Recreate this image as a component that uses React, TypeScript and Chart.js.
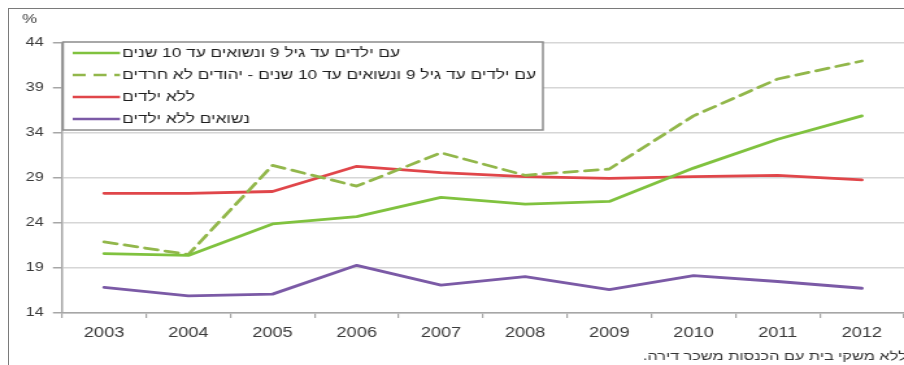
import React, { useEffect, useRef } from "react";
import { Chart, registerables } from "chart.js";

Chart.register(...registerables);

// Years on the horizontal axis
const years = ["2003", "2004", "2005", "2006", "2007", "2008", "2009", "2010", "2011", "2012"];

// Share of households (%), by household type
const withKids = [20.6, 20.4, 23.9, 24.7, 26.85, 26.1, 26.4, 30.1, 33.3, 35.9];
const withKidsNonHaredi = [21.9, 20.5, 30.4, 28.1, 31.8, 29.3, 30.0, 35.9, 40.0, 42.0];
const noKids = [27.3, 27.3, 27.5, 30.3, 29.6, 29.15, 28.95, 29.15, 29.3, 28.8];
const marriedNoKids = [16.85, 15.9, 16.1, 19.3, 17.1, 18.05, 16.6, 18.15, 17.5, 16.75];

const seriesLabels = [
  "עם ילדים עד גיל 9 ונשואים עד 10 שנים",
  "עם ילדים עד גיל 9 ונשואים עד 10 שנים - יהודים לא חרדים",
  "ללא ילדים",
  "נשואים ללא ילדים",
];

const yTicks = [14, 19, 24, 29, 34, 39, 44];
const unitLabel = "%";
const footnote = "ללא משקי בית עם הכנסות משכר דירה.";

// The drawing is laid out on a narrower canvas and widened with CSS.
const CANVAS_W = 696;
const CANVAS_H = 365;
const WIDEN = 904 / CANVAS_W;
const FONT = "'Liberation Sans', Arial, sans-serif";

const decorations = {
  id: "decorations",
  afterDatasetsDraw(chart: any) {
    const ctx = chart.ctx as CanvasRenderingContext2D;
    ctx.save();

    // unit label above the value axis
    ctx.fillStyle = "#404040";
    ctx.font = `13px ${FONT}`;
    ctx.textAlign = "center";
    ctx.textBaseline = "middle";
    ctx.fillText(unitLabel, 22.7, 19);

    // legend box
    const left = 48.5;
    const right = 418;
    const top = 42;
    const bottom = 130;
    ctx.fillStyle = "#ffffff";
    ctx.fillRect(left, top, right - left, bottom - top);
    ctx.strokeStyle = "#8c8c8c";
    ctx.lineWidth = 1.5;
    ctx.strokeRect(left, top, right - left, bottom - top);

    chart.data.datasets.forEach((ds: any, i: number) => {
      const y = 53 + 22 * i;
      ctx.save();
      ctx.strokeStyle = ds.borderColor;
      ctx.lineWidth = 2.6;
      ctx.setLineDash(ds.borderDash || []);
      ctx.beginPath();
      ctx.moveTo(56, y);
      ctx.lineTo(92.4, y);
      ctx.stroke();
      ctx.restore();

      ctx.fillStyle = "#1e1e1e";
      ctx.font = `13.3px ${FONT}`;
      (ctx as any).direction = "rtl";
      ctx.textAlign = "left";
      ctx.textBaseline = "middle";
      ctx.fillText(ds.label, 94, y);
    });

    // footnote under the chart
    ctx.fillStyle = "#333333";
    ctx.font = `12.5px ${FONT}`;
    (ctx as any).direction = "rtl";
    ctx.textAlign = "right";
    ctx.textBaseline = "middle";
    ctx.fillText(footnote, 698, 357);

    ctx.restore();
  },
};

export default function App() {
  const canvasRef = useRef<HTMLCanvasElement | null>(null);

  useEffect(() => {
    if (!canvasRef.current) return;
    const chart = new Chart(canvasRef.current, {
      type: "line",
      data: {
        labels: years,
        datasets: [
          {
            label: seriesLabels[0],
            data: withKids,
            borderColor: "#80c23f",
            borderWidth: 2.8,
          },
          {
            label: seriesLabels[1],
            data: withKidsNonHaredi,
            borderColor: "#92b74b",
            borderWidth: 2.8,
            borderDash: [10, 6],
          },
          {
            label: seriesLabels[2],
            data: noKids,
            borderColor: "#e0464a",
            borderWidth: 2.8,
          },
          {
            label: seriesLabels[3],
            data: marriedNoKids,
            borderColor: "#7b5aa6",
            borderWidth: 2.8,
          },
        ],
      },
      options: {
        animation: false,
        responsive: false,
        devicePixelRatio: 1,
        layout: { padding: { top: 43, left: 0, right: 0, bottom: 0 } },
        elements: {
          point: { radius: 0, hoverRadius: 0 },
          line: { tension: 0, fill: false, borderCapStyle: "round", borderJoinStyle: "round" },
        },
        plugins: {
          legend: { display: false },
          tooltip: { enabled: false },
          title: { display: false },
        },
        scales: {
          x: {
            type: "category",
            offset: true,
            afterFit: (scale: any) => {
              scale.height = 52;
            },
            grid: {
              display: true,
              drawOnChartArea: false,
              drawTicks: true,
              tickLength: 5,
              offset: true,
              color: "#a6a6a6",
              lineWidth: 1.2,
            },
            border: { display: true, color: "#a6a6a6", width: 1.5 },
            ticks: {
              color: "#3a3a3a",
              font: { family: FONT, size: 14 },
              padding: 7,
              maxRotation: 0,
              autoSkip: false,
            },
          },
          y: {
            min: 14,
            max: 44,
            afterFit: (scale: any) => {
              scale.width = 62 / WIDEN;
            },
            afterBuildTicks: (scale: any) => {
              scale.ticks = yTicks.map((v) => ({ value: v }));
            },
            grid: {
              color: "#d6d6d6",
              lineWidth: 1.5,
              drawTicks: true,
              tickLength: 7,
              tickColor: "#a6a6a6",
            },
            border: { display: true, color: "#a6a6a6", width: 1.5 },
            ticks: {
              color: "#3a3a3a",
              font: { family: FONT, size: 12.5 },
              padding: 7,
            },
          },
        },
      },
      plugins: [decorations],
    });
    return () => chart.destroy();
  }, []);

  return (
    <div style={{ position: "absolute", left: 0, top: 0, width: 904, height: 365, overflow: "hidden", background: "#ffffff" }}>
      <canvas
        ref={canvasRef}
        width={CANVAS_W}
        height={CANVAS_H}
        style={{
          position: "absolute",
          left: 0,
          top: 0,
          width: CANVAS_W,
          height: CANVAS_H,
          transform: `scaleX(${WIDEN})`,
          transformOrigin: "0 0",
        }}
      />
      <div style={{ position: "absolute", left: 8, top: 8, width: 896, height: 0, borderTop: "1.5px solid #7a7a7a" }} />
      <div style={{ position: "absolute", left: 8, top: 8, width: 0, height: 357, borderLeft: "1.5px solid #7a7a7a" }} />
    </div>
  );
}
